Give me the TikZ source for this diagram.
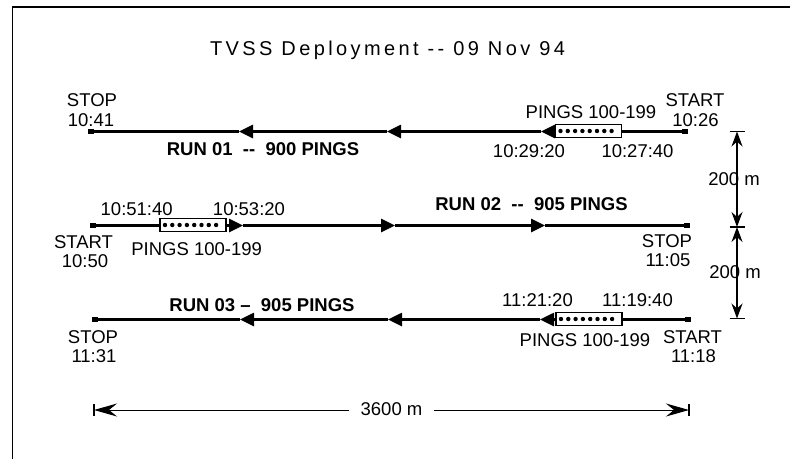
\documentclass[tikz,border=0pt]{standalone}
\usepackage{fontspec}
\setmainfont{Liberation Sans}
\newfontfamily\titlefont[LetterSpace=17]{Liberation Sans}
\usetikzlibrary{arrows.meta}
\begin{document}
\begin{tikzpicture}[x=1pt,y=-1pt,
  lbl/.style={anchor=base, inner sep=0pt, font=\fontsize{18.5}{20}\selectfont},
  blbl/.style={anchor=base, inner sep=0pt, font=\fontsize{18.5}{20}\selectfont\bfseries},
  run/.style={line width=2.6pt},
  runarrow/.style={line width=2.6pt, -{Triangle[length=14pt,width=13pt]}},
  endpt/.style={rectangle, fill=black, minimum size=5.5pt, inner sep=0pt},
  pingbox/.style={draw, line width=1.8pt, minimum width=66pt, minimum height=13pt, inner sep=0pt},
  dot/.style={fill=black},
  dimarrow/.style={line width=1.1pt, {Stealth[length=15pt,width=11pt]}-{Stealth[length=15pt,width=11pt]}},
  hdim/.style={line width=1pt, -{Stealth[length=23pt,width=13pt,inset=8pt]}},
  frame/.style={line width=1.5pt}
]
\useasboundingbox (0,0) rectangle (790,459);
% frame
\coordinate (fb) at (12.5,459);
\coordinate (fc) at (12.5,7);
\coordinate (fr) at (790,7);
\draw[frame] (fb) -- (fc) -- (fr);

% title
\node[anchor=base, inner sep=0pt, font=\titlefont\fontsize{20}{22}\selectfont] (title) at (387.5,55) {TVSS Deployment -{}- 09 Nov 94};

% ---------------- Run 1 (y=131), right to left
\node[endpt] (s1) at (685,131.5) {};
\node[endpt] (e1) at (91,131.5) {};
\node[pingbox] (b1) at (588.5,131) {};
\foreach \i in {0,...,7} \fill[dot] ({560.5+\i*7.3},131) circle (2.2pt);
\coordinate (a1a) at (541,131.5);
\coordinate (a1b) at (387,131.5);
\coordinate (a1c) at (239,131.5);
\draw[run] (s1) -- (b1.east |- s1);
\draw[runarrow] (b1.west |- s1) -- (a1a);
\draw[runarrow] (a1a) -- (a1b);
\draw[runarrow] (a1b) -- (a1c);
\draw[run] (a1c) -- (e1);
\node[lbl] (stop1) at (92,106) {STOP};
\node[lbl] (t1041) at (91,126) {10:41};
\node[lbl] (start1) at (695,106) {START};
\node[lbl] (t1026) at (695.5,126) {10:26};
\node[lbl] (p1) at (591,118) {PINGS 100-199};
\node[lbl] (t102920) at (529,157) {10:29:20};
\node[lbl] (t102740) at (637.5,157) {10:27:40};
\node[blbl] (run1) at (263,155) {RUN 01\ \ -{}-\ \ 900 PINGS};

% ---------------- Run 2 (y=225), left to right
\node[endpt] (s2) at (93,225.5) {};
\node[endpt] (e2) at (687,225.5) {};
\node[pingbox] (b2) at (193,225) {};
\foreach \i in {0,...,7} \fill[dot] ({165+\i*7.3},225) circle (2.2pt);
\coordinate (a2a) at (243,225.5);
\coordinate (a2b) at (395,225.5);
\coordinate (a2c) at (545,225.5);
\draw[run] (s2) -- (b2.west |- s2);
\draw[runarrow] (b2.east |- s2) -- (a2a);
\draw[runarrow] (a2a) -- (a2b);
\draw[runarrow] (a2b) -- (a2c);
\draw[run] (a2c) -- (e2);
\node[lbl] (t105140) at (136.7,215) {10:51:40};
\node[lbl] (t105320) at (249,215) {10:53:20};
\node[blbl] (run2) at (531.5,210.7) {RUN 02\ \ -{}-\ \ 905 PINGS};
\node[lbl] (start2) at (83.5,248) {START};
\node[lbl] (t1050) at (85,267) {10:50};
\node[lbl] (p2) at (196.7,255) {PINGS 100-199};
\node[lbl] (stop2) at (667,247.3) {STOP};
\node[lbl] (t1105) at (668,266.7) {11:05};

% ---------------- Run 3 (y=319), right to left
\node[endpt] (s3) at (688,319.5) {};
\node[endpt] (e3) at (95,319.5) {};
\node[pingbox] (b3) at (589,319) {};
\foreach \i in {0,...,7} \fill[dot] ({561+\i*7.3},319) circle (2.2pt);
\coordinate (a3a) at (540,319.5);
\coordinate (a3b) at (388,319.5);
\coordinate (a3c) at (240,319.5);
\draw[run] (s3) -- (b3.east |- s3);
\draw[runarrow] (b3.west |- s3) -- (a3a);
\draw[runarrow] (a3a) -- (a3b);
\draw[runarrow] (a3b) -- (a3c);
\draw[run] (a3c) -- (e3);
\node[blbl] (run3) at (262,311.7) {RUN 03 --\ \ 905 PINGS};
\node[lbl] (t112120) at (537.5,306.7) {11:21:20};
\node[lbl] (t111940) at (637.5,306.7) {11:19:40};
\node[lbl] (p3) at (585,346.7) {PINGS 100-199};
\node[lbl] (start3) at (692.5,343.3) {START};
\node[lbl] (t1118) at (693.5,362.7) {11:18};
\node[lbl] (stop3) at (93,343.3) {STOP};
\node[lbl] (t1131) at (94,362.7) {11:31};

% ---------------- vertical dimensions
\coordinate (vt) at (737,131.5);
\coordinate (vm) at (737,227);
\coordinate (vb) at (737,318.5);
\draw[line width=1.6pt] ([xshift=-7.5pt]vt) -- ([xshift=7.5pt]vt);
\draw[line width=1.6pt] ([xshift=-7.5pt]vm) -- ([xshift=7.5pt]vm);
\draw[line width=1.6pt] ([xshift=-7.5pt]vb) -- ([xshift=7.5pt]vb);
\draw[dimarrow] (vt) -- (vm);
\draw[dimarrow] (vm) -- (vb);
\node[lbl] (d1) at (734,185) {200 m};
\node[lbl] (d2) at (735,278.3) {200 m};

% ---------------- horizontal dimension
\coordinate (hl) at (94,410);
\coordinate (hr) at (689,410);
\node[lbl, inner xsep=11pt] (d3) at (391.5,415) {3600 m};
\draw[line width=2pt] ([yshift=-6pt]hl) -- ([yshift=6pt]hl);
\draw[line width=2pt] ([yshift=-6pt]hr) -- ([yshift=6pt]hr);
\draw[hdim] (d3.west |- hl) -- (hl);
\draw[hdim] (d3.east |- hr) -- (hr);
\end{tikzpicture}
\end{document}
